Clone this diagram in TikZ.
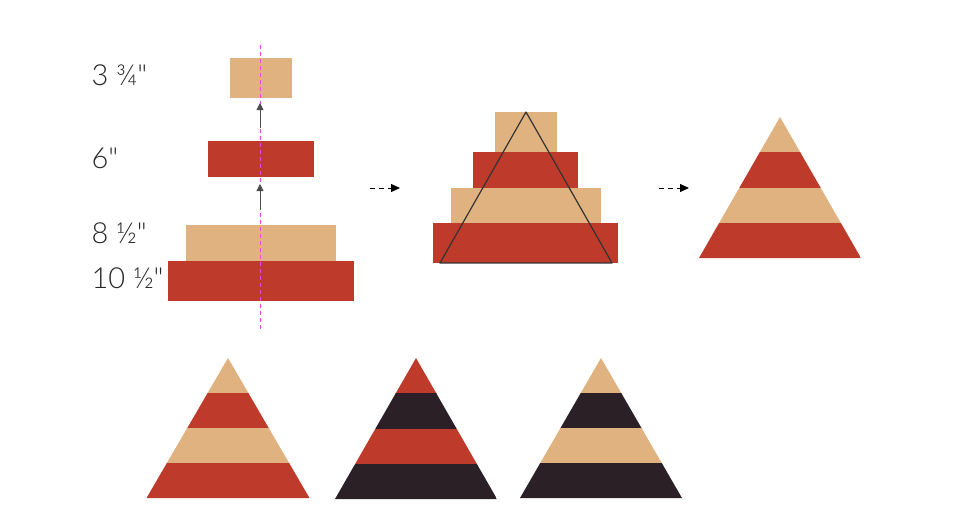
\documentclass[tikz,border=0pt]{standalone}
\usepackage{fontspec}
\setmainfont{Lato Light}[Ligatures=TeXOff]
\usepackage{xcolor}
\usetikzlibrary{arrows.meta}

\definecolor{tan}{RGB}{224,178,127}
\definecolor{brick}{RGB}{190,58,42}
\definecolor{dark}{RGB}{42,32,38}
\definecolor{guide}{RGB}{240,70,230}

\tikzset{
  size/.style={anchor=base west, font=\fontsize{29}{31}\selectfont, text=black!85},
  lift/.style={draw=black!70, line width=0.8pt, -{Triangle[length=7pt,width=7pt]}},
  step arrow/.style={black, line width=0.9pt, dash pattern=on 5pt off 4pt, -{Triangle[length=9pt,width=8pt]}}
}

\begin{document}
\begin{tikzpicture}[x=1pt, y=-1pt]

\useasboundingbox (0,0) rectangle (954,525);

% strips to cut
\foreach \xa/\ya/\xb/\yb/\c in {230/58/292/98/tan, 208/141/314/177/brick, 186/225/336/261/tan, 168/261/354/301/brick}{
	\fill[fill=\c] (\xa,\ya) rectangle (\xb,\yb);
}

\draw[guide, line width=1pt, dash pattern=on 4pt off 3pt] (260,45)--(260,330);

\coordinate (lowtail) at (260,210);
\coordinate (lowtip) at (260,184);
\coordinate (uptail) at (260,128);
\coordinate (uptip) at (260,103);
\draw[lift] (lowtail)--(lowtip);
\draw[lift] (uptail)--(uptip);

\node[size] (q) at (88,85) {3 ¾"};
\node[size] (s) at (88,168) {6"};
\node[size] (e) at (88,243) {8 ½"};
\node[size] (t) at (88,288) {10 ½"};

% stacked
\foreach \xa/\ya/\xb/\yb/\c in {495/112/557/152/tan, 473/152/578/188/brick, 451/188/601/223/tan, 433/223/618/263/brick}{
	\fill[fill=\c] (\xa,\ya) rectangle (\xb,\yb);
}
\draw[black!80, line width=1.2pt, line join=round] (526,112)--(440,263)--(612,263)--cycle;

\coordinate (a1) at (370,188);
\coordinate (b1) at (400,188);
\coordinate (a2) at (659,188);
\coordinate (b2) at (689,188);
\draw[step arrow] (a1)--(b1);
\draw[step arrow] (a2)--(b2);

% striped triangles
\foreach \ax/\ay/\hw/\h/\ca/\cb in {780/117/81/141/tan/brick, 228/358/81.5/140/tan/brick, 416/358/81/141/brick/dark, 601/358/81/140/tan/dark}{
	\begin{scope}
	\clip (\ax,\ay)--(\ax-\hw,\ay+\h)--(\ax+\hw,\ay+\h)--cycle;
	\foreach \k/\c in {0/\ca,1/\cb,2/\ca,3/\cb}{
		\fill[fill=\c] (\ax-\hw,\ay+\k*\h/4) rectangle (\ax+\hw,\ay+\k*\h/4+\h/4+0.5);
	}
	\end{scope}
}

\end{tikzpicture}
\end{document}
